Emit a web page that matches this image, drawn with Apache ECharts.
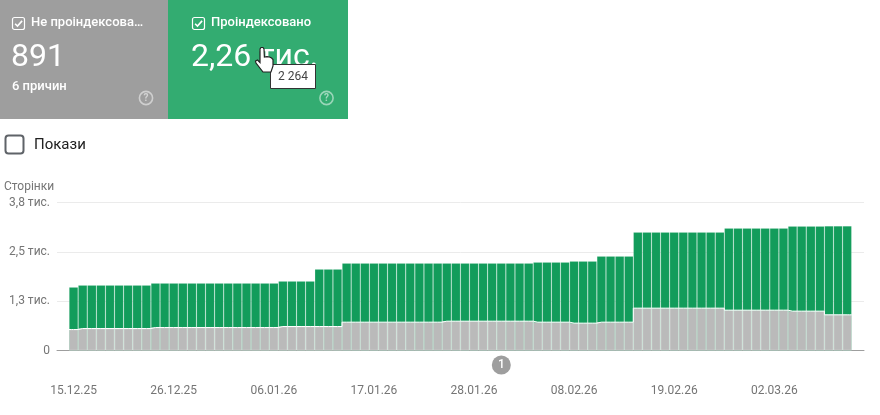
<!DOCTYPE html>
<html>
<head>
<meta charset="utf-8">
<style>html,body{margin:0;padding:0;background:#fff}#c{width:880px;height:415px}</style>
<script src="https://cdn.jsdelivr.net/npm/echarts@6/dist/echarts.min.js"></script>
</head>
<body>
<div id="c"></div>
<script>
var startDate = [2025, 12, 15];
var dayCount = 86;
var labelDays = [0, 11, 22, 33, 44, 55, 66, 77];
var yTicks = {0: '0', 1250: '1,3 тис.', 2500: '2,5 тис.', 3750: '3,8 тис.'};
var notIndexedRuns = [[1, 532], [8, 557], [14, 583], [7, 608], [11, 718], [10, 743], [4, 718], [3, 693], [4, 718], [10, 1073], [7, 1022], [4, 997], [3, 905]];
var indexedRuns = [[1, 1073], [8, 1098], [14, 1123], [4, 1149], [3, 1453], [11, 1495], [10, 1470], [4, 1520], [3, 1571], [4, 1672], [10, 1925], [7, 2078], [4, 2153], [3, 2250]];

function expand(runs) {
  var out = [];
  runs.forEach(function (r) { for (var i = 0; i < r[0]; i++) out.push(r[1]); });
  return out;
}
var notIndexed = expand(notIndexedRuns);
var indexed = expand(indexedRuns);
var dates = [];
for (var d = 0; d < dayCount; d++) {
  var t = new Date(Date.UTC(startDate[0], startDate[1] - 1, startDate[2] + d));
  var p = function (n) { return (n < 10 ? '0' : '') + n; };
  dates.push(p(t.getUTCDate()) + '.' + p(t.getUTCMonth() + 1) + '.' + String(t.getUTCFullYear()).slice(2));
}
var font = 'Roboto';
var axisGrey = '#757575';

var chart = echarts.init(document.getElementById('c'), null, {renderer: 'canvas'});

function txt(x, y, s, size, color, weight) {
  return {type: 'text', x: x, y: y, silent: true, z: 20,
    style: {text: s, fill: color, font: (weight || 400) + ' ' + size + 'px ' + font, verticalAlign: 'middle'}};
}
function check(x, y) {
  return [
    {type: 'rect', x: x, y: y, z: 20, shape: {width: 12, height: 12, r: 2}, style: {fill: 'rgba(0,0,0,0)', stroke: '#fff', lineWidth: 1.2}},
    {type: 'polyline', x: x, y: y, z: 20, shape: {points: [[2.6, 6.2], [5, 8.6], [9.6, 3.4]]}, style: {fill: 'none', stroke: '#fff', lineWidth: 1.6}}
  ];
}
function help(cx, cy) {
  return [
    {type: 'circle', z: 20, shape: {cx: cx, cy: cy, r: 6.6}, style: {fill: 'none', stroke: 'rgba(255,255,255,0.5)', lineWidth: 1.6}},
    {type: 'text', x: cx, y: cy, z: 20, style: {text: '?', fill: 'rgba(255,255,255,0.55)', font: '700 10px ' + font, align: 'center', verticalAlign: 'middle'}}
  ];
}

var graphics = [
  {type: 'rect', z: 10, shape: {x: 0, y: 0, width: 168, height: 119}, style: {fill: '#9e9e9e'}},
  {type: 'rect', z: 10, shape: {x: 168, y: 0, width: 180, height: 119}, style: {fill: '#33ac71'}}
].concat(check(12.5, 17.5), check(192.5, 17.5), help(146, 98), help(326.5, 98), [
  txt(31, 23, 'Не проіндексова…', 13, '#fff', 500),
  txt(211, 23, 'Проіндексовано', 13, '#fff', 500),
  txt(11, 58, '891', 32, '#fff', 400),
  txt(191, 58, '2,26 тис.', 32, '#fff', 400),
  txt(12, 87, '6 причин', 13, '#fff', 500),
  {type: 'rect', z: 20, shape: {x: 5.5, y: 135.5, width: 18, height: 18, r: 3}, style: {fill: '#fff', stroke: '#5f6368', lineWidth: 2}},
  txt(34, 145.5, 'Покази', 15, '#212121', 400),
  txt(4, 186.5, 'Сторінки', 12, axisGrey, 400),
  {type: 'rect', z: 22, shape: {x: 270.5, y: 64.5, width: 45, height: 24}, style: {fill: '#fff', stroke: '#333', lineWidth: 1}},
  {type: 'text', x: 278, y: 77, z: 23, style: {text: '2 264', fill: '#444', font: '400 12px ' + font, verticalAlign: 'middle'}},
  {type: 'polygon', z: 23, x: 255, y: 47, shape: {points: [[5, 2], [6, 0.5], [8, 0.5], [9, 2], [9.4, 10], [12, 9.6], [14.5, 10], [16.6, 11], [18, 12.5], [18, 19], [16, 25], [8, 25], [1, 16], [0.5, 14], [2.5, 13], [5, 15.5]]}, style: {fill: '#fff', stroke: '#222', lineWidth: 1.2}}
]);

var totals = notIndexed.map(function (v, i) { return [i, v + indexed[i]]; });
var greyPoints = notIndexed.map(function (v, i) { return [i, v]; });
var dividerPoints = [[-0.5, notIndexed[0]]].concat(greyPoints, [[dayCount - 0.5, notIndexed[dayCount - 1]]]);

chart.setOption({
  animation: false,
  textStyle: {fontFamily: font},
  grid: {left: 57, right: 16, top: 202.5, bottom: 64.5},
  xAxis: {
    type: 'value', min: -1.82, max: 86.85,
    splitLine: {show: false},
    axisLine: {show: true, onZero: true, lineStyle: {color: '#9e9e9e', width: 1}},
    axisTick: {show: false},
    axisLabel: {
      margin: 34, fontSize: 12, color: axisGrey, fontFamily: font,
      customValues: labelDays,
      formatter: function (v) { return dates[v] || ''; }
    }
  },
  yAxis: {
    type: 'value', min: 0, max: 3750, interval: 1250,
    axisLine: {show: false}, axisTick: {show: false},
    splitLine: {lineStyle: {color: '#ebebeb', width: 1}},
    axisLabel: {margin: 7, fontSize: 12, color: axisGrey, fontFamily: font, padding: [2, 0, 0, 0],
      formatter: function (v) { return yTicks[v]; }}
  },
  series: [
    {name: 'Проіндексовано', type: 'bar', barWidth: 9.1, barGap: '-100%',
     itemStyle: {color: '#129c5b', borderColor: 'rgba(255,255,255,0.22)', borderWidth: 0.6},
     data: totals},
    {name: 'Не проіндексовано', type: 'bar', barWidth: 9.1, barGap: '-100%',
     itemStyle: {color: '#bababa', borderColor: 'rgba(255,255,255,0.5)', borderWidth: 0.6},
     data: greyPoints},
    {name: 'divider', type: 'line', step: 'middle', symbol: 'none', silent: true, z: 5,
     lineStyle: {color: '#fff', width: 1},
     data: dividerPoints}
  ],
  graphic: graphics
});

var markerX = chart.convertToPixel({xAxisIndex: 0}, 47);
chart.setOption({graphic: graphics.concat([
  {type: 'circle', z: 20, shape: {cx: markerX, cy: 365, r: 9.5}, style: {fill: '#9e9e9e'}},
  {type: 'text', x: markerX, y: 365, z: 21, style: {text: '1', fill: '#fff', font: '500 12px ' + font, align: 'center', verticalAlign: 'middle'}}
])});
</script>
</body>
</html>
